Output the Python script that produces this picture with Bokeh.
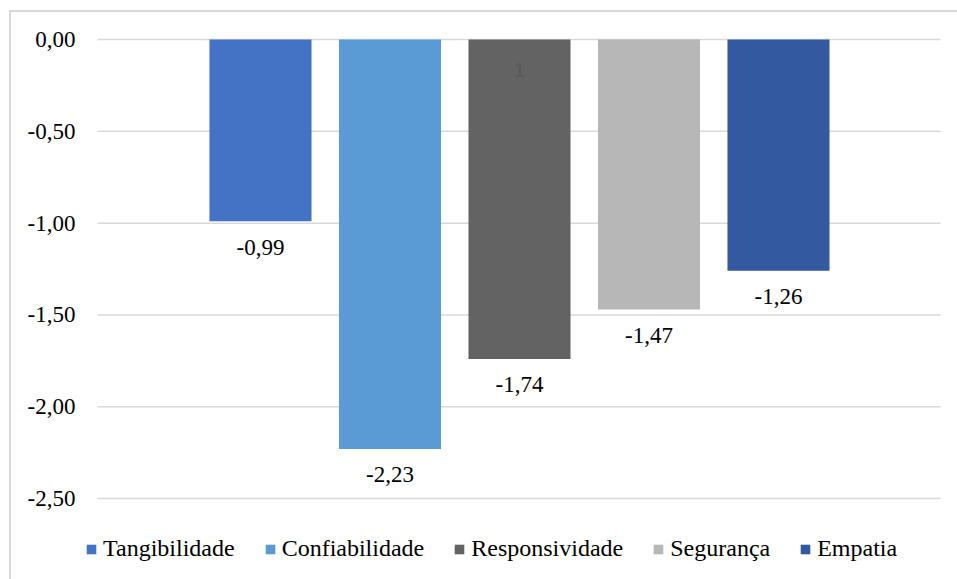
from bokeh.plotting import figure
from bokeh.models import (ColumnDataSource, Range1d, FixedTicker, CustomJSTickFormatter,
                          Legend, LegendItem)
from bokeh.core.properties import value
from bokeh.embed import file_html
from bokeh.resources import INLINE

# Dimensões da qualidade do serviço (gap médio)
dimensoes = ["Tangibilidade", "Confiabilidade", "Responsividade", "Segurança", "Empatia"]
gaps = [-0.99, -2.23, -1.74, -1.47, -1.26]
cores = ["#4472C4", "#5B9BD5", "#636363", "#B7B7B7", "#335AA0"]
y_ticks = [0.0, -0.5, -1.0, -1.5, -2.0, -2.5]
# rótulo extra que aparece no topo da barra de Responsividade
nota_dim = "Responsividade"
nota_txt = "1"

FONT = "Liberation Serif"

posicoes = list(range(1, len(dimensoes) + 1))
rotulos = [f"{v:.2f}".replace(".", ",") for v in gaps]

# extensão horizontal das linhas de grade (área de plotagem)
grade_x0, grade_x1 = -0.2587, 6.251

# moldura cinza-clara (bordas superior e esquerda) desenhada no fundo do elemento
moldura = {
    "background-color": "white",
    "background-image": "linear-gradient(#D9D9D9, #D9D9D9), linear-gradient(#D9D9D9, #D9D9D9)",
    "background-size": "100% 2px, 2px 100%",
    "background-position": "9px 10px, 9px 10px",
    "background-repeat": "no-repeat",
}

p = figure(width=957, height=579, output_backend="svg", toolbar_location=None,
           x_range=Range1d(-0.3822, 6.3823), y_range=Range1d(-2.941, 0.022),
           min_border_left=81, min_border_right=0, min_border_top=35, min_border_bottom=0,
           styles=moldura)
p.outline_line_color = None
p.background_fill_color = "white"
p.border_fill_color = None

# eixo x oculto
p.xaxis.visible = False
p.xgrid.visible = False
p.ygrid.visible = False

# eixo y com vírgula decimal
p.yaxis.ticker = FixedTicker(ticks=y_ticks)
p.yaxis.formatter = CustomJSTickFormatter(code="return tick.toFixed(2).replace('.', ',');")
p.yaxis.axis_line_color = None
p.yaxis.major_tick_line_color = None
p.yaxis.minor_tick_line_color = None
p.yaxis.major_label_text_font = FONT
p.yaxis.major_label_text_font_size = "23px"
p.yaxis.major_label_text_color = "#000000"
p.yaxis.major_label_standoff = 0

# linhas de grade horizontais
p.segment(x0=[grade_x0] * len(y_ticks), x1=[grade_x1] * len(y_ticks), y0=y_ticks, y1=y_ticks,
          line_color="#D9D9D9", line_width=1.5)

itens = []
for nome, v, c, x, lab in zip(dimensoes, gaps, cores, posicoes, rotulos):
    src = ColumnDataSource(dict(x=[x], top=[0.0], bottom=[v], lab=[lab]))
    r = p.vbar(x="x", top="top", bottom="bottom", width=0.788, source=src,
               fill_color=c, line_color=None)
    p.text(x="x", y="bottom", text="lab", source=src, text_align="center",
           text_baseline="middle", y_offset=26, text_font=value(FONT),
           text_font_size="23px", text_color="#000000")
    itens.append(LegendItem(label=nome, renderers=[r]))

# rótulo extra no topo da barra
idx = dimensoes.index(nota_dim)
p.text(x=[posicoes[idx]], y=[0.0], text=[nota_txt], text_align="center",
       text_baseline="middle", y_offset=30, text_font=value("Liberation Sans"),
       text_font_size="21px", text_color="#595959")

legend = Legend(items=itens, orientation="horizontal", location=(4, 17),
                glyph_width=12, glyph_height=12, label_standoff=6, spacing=29,
                padding=0, margin=0, border_line_color=None, background_fill_alpha=0,
                label_text_font=FONT, label_text_font_size="24px", label_text_color="#000000")
p.add_layout(legend, "center")

open("out.html", "w").write(file_html(p, INLINE))
